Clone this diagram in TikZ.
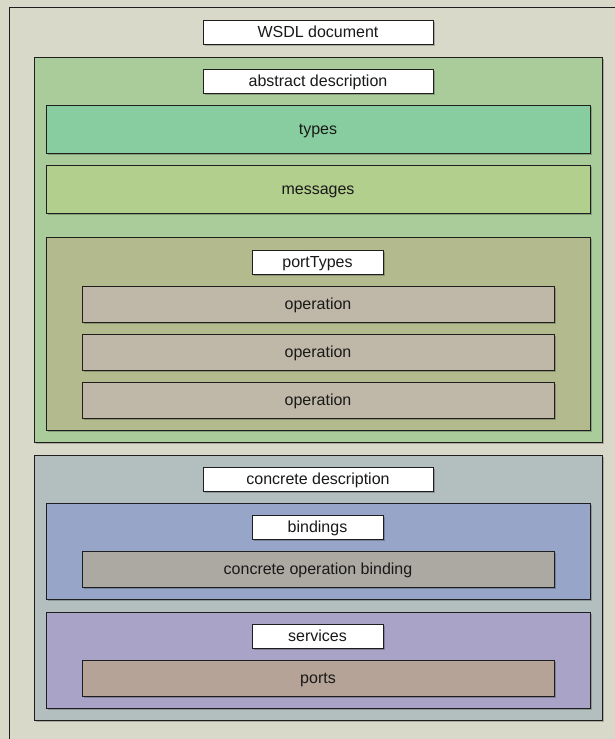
\documentclass[tikz,border=0pt]{standalone}
\usepackage{fontspec}
\setmainfont{Liberation Sans}
\usetikzlibrary{shadows}

\definecolor{bgcol}{HTML}{D9D9C9}
\definecolor{abstractcol}{HTML}{A9CC9A}
\definecolor{typescol}{HTML}{88CDA0}
\definecolor{messagescol}{HTML}{B2CF8D}
\definecolor{porttypescol}{HTML}{B3BB8E}
\definecolor{operationcol}{HTML}{BFB7A7}
\definecolor{concretecol}{HTML}{B3BFBF}
\definecolor{bindingscol}{HTML}{97A6C8}
\definecolor{cobcol}{HTML}{ABA9A1}
\definecolor{servicescol}{HTML}{A8A3C7}
\definecolor{portscol}{HTML}{B6A397}
\definecolor{edgecol}{HTML}{1E1E1E}

\tikzset{
  box/.style={draw=edgecol, line width=1pt, rectangle, inner sep=0pt, outer sep=0pt,
    anchor=north west, font=\fontsize{16}{19}\selectfont, text=black!90,
    text height=14pt, text depth=2.5pt,
    drop shadow={shadow xshift=1.8pt, shadow yshift=-1.8pt, opacity=0.22, fill=black}},
  titlebox/.style={box, fill=white, minimum width=230pt, minimum height=24pt},
  taglabel/.style={box, fill=white, minimum width=131pt, minimum height=24pt},
  container/.style={box, fill=#1, minimum width=544pt},
  item/.style={box, fill=#1, minimum width=472pt, minimum height=36pt},
}

\begin{document}
\begin{tikzpicture}[x=1pt, y=-1pt]
  \useasboundingbox (0,0) rectangle (615,739);
  % page background and document frame
  \fill[bgcol] (0,0) rectangle (615,739);
  \draw[edgecol, line width=1pt, fill=bgcol] (9,7) rectangle (640,760);

  \node[titlebox] (wsdl) at (203,20) {WSDL document};

  % abstract part
  \node[box, fill=abstractcol, minimum width=568pt, minimum height=385pt] (abstract) at (34,57) {};
  \node[titlebox] (abstractlbl) at (203,69) {abstract description};
  \node[container=typescol, minimum height=48pt] (types) at (46,105) {types};
  \node[container=messagescol, minimum height=48pt] (messages) at (46,165) {messages};
  \node[container=porttypescol, minimum height=193pt] (porttypes) at (46,237) {};
  \node[taglabel] (porttypeslbl) at (252,250) {portTypes};
  \node[item=operationcol] (op1) at (82,286) {operation};
  \node[item=operationcol] (op2) at (82,334) {operation};
  \node[item=operationcol] (op3) at (82,382) {operation};

  % concrete part
  \node[box, fill=concretecol, minimum width=568pt, minimum height=265pt] (concrete) at (34,455) {};
  \node[titlebox] (concretelbl) at (203,467) {concrete description};
  \node[container=bindingscol, minimum height=96pt] (bindings) at (46,503) {};
  \node[taglabel] (bindingslbl) at (252,515) {bindings};
  \node[item=cobcol] (cob) at (82,551) {concrete operation binding};
  \node[container=servicescol, minimum height=96pt] (services) at (46,612) {};
  \node[taglabel] (serviceslbl) at (252,624) {services};
  \node[item=portscol] (ports) at (82,660) {ports};
\end{tikzpicture}
\end{document}
